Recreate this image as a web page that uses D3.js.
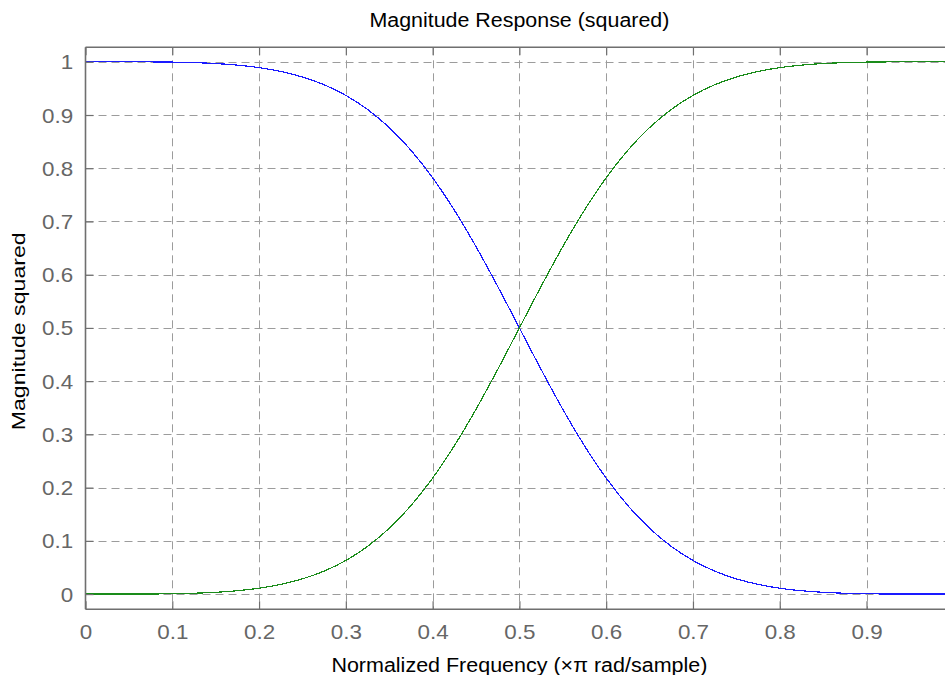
<!DOCTYPE html>
<html>
<head>
<meta charset="utf-8">
<script src="https://cdn.jsdelivr.net/npm/d3@7"></script>
<style>
  html, body { margin: 0; padding: 0; background: #fff; }
  svg { display: block; font-family: "Liberation Sans", Arial, sans-serif; }
</style>
</head>
<body>
<svg id="chart" width="945" height="675"></svg>
<script>
// Normalized frequency samples (x pi rad/sample)
const freq = [0.000, 0.025, 0.050, 0.075, 0.100, 0.125, 0.150, 0.175, 0.200, 0.225,
              0.250, 0.275, 0.300, 0.325, 0.350, 0.375, 0.400, 0.425, 0.450, 0.475,
              0.500, 0.525, 0.550, 0.575, 0.600, 0.625, 0.650, 0.675, 0.700, 0.725,
              0.750, 0.775, 0.800, 0.825, 0.850, 0.875, 0.900, 0.925, 0.950, 0.975, 1.000];

// Squared magnitude, lowpass branch
const lowpass = [1.0000, 1.0000, 1.0000, 0.9998, 0.9994, 0.9984, 0.9967, 0.9937, 0.9890, 0.9818,
                 0.9714, 0.9568, 0.9369, 0.9104, 0.8764, 0.8338, 0.7821, 0.7214, 0.6527, 0.5780,
                 0.5000, 0.4220, 0.3473, 0.2786, 0.2179, 0.1662, 0.1236, 0.0896, 0.0631, 0.0432,
                 0.0286, 0.0182, 0.0110, 0.0063, 0.0033, 0.0016, 0.0006, 0.0002, 0.0000, 0.0000, 0.0000];

// Squared magnitude, highpass branch
const highpass = [0.0000, 0.0000, 0.0000, 0.0002, 0.0006, 0.0016, 0.0033, 0.0063, 0.0110, 0.0182,
                  0.0286, 0.0432, 0.0631, 0.0896, 0.1236, 0.1662, 0.2179, 0.2786, 0.3473, 0.4220,
                  0.5000, 0.5780, 0.6527, 0.7214, 0.7821, 0.8338, 0.8764, 0.9104, 0.9369, 0.9568,
                  0.9714, 0.9818, 0.9890, 0.9937, 0.9967, 0.9984, 0.9994, 0.9998, 1.0000, 1.0000, 1.0000];

const xTicks = [0, 0.1, 0.2, 0.3, 0.4, 0.5, 0.6, 0.7, 0.8, 0.9];
const yTicks = [0, 0.1, 0.2, 0.3, 0.4, 0.5, 0.6, 0.7, 0.8, 0.9, 1];

const titleText = "Magnitude Response (squared)";
const xLabelText = "Normalized Frequency (\u00D7\u03C0 rad/sample)";
const yLabelText = "Magnitude squared";

const svg = d3.select("#chart");
const plotLeft = 85.5, plotRight = 953.3, plotTop = 47.3, plotBottom = 609.3;

const x = d3.scaleLinear().domain([0, 1]).range([plotLeft, plotRight]);
const y = d3.scaleLinear().domain([-0.0286, 1.0272]).range([plotBottom, plotTop]);

const gridColor = "#9c9c9c";
const axisColor = "#6f6f6f";
const tickText = "#666666";

// Dashed grid
const grid = svg.append("g");
grid.selectAll("line.vg").data(xTicks.filter(d => d > 0)).join("line")
  .attr("x1", d => Math.round(x(d)) + 0.5).attr("x2", d => Math.round(x(d)) + 0.5)
  .attr("y1", plotTop).attr("y2", plotBottom)
  .attr("stroke", gridColor).attr("stroke-width", 1).attr("stroke-dasharray", "8,5");
grid.selectAll("line.hg").data(yTicks).join("line")
  .attr("x1", plotLeft).attr("x2", plotRight)
  .attr("y1", d => Math.round(y(d)) + 0.5).attr("y2", d => Math.round(y(d)) + 0.5)
  .attr("stroke", gridColor).attr("stroke-width", 1).attr("stroke-dasharray", "8,5");

// Curves
svg.append("clipPath").attr("id", "plotclip")
  .append("rect").attr("x", plotLeft).attr("y", plotTop)
  .attr("width", plotRight - plotLeft).attr("height", plotBottom - plotTop);

const line = d3.line().x((d, i) => x(freq[i])).y(d => y(d)).curve(d3.curveMonotoneX);
const curves = svg.append("g").attr("clip-path", "url(#plotclip)");
curves.append("path").datum(lowpass).attr("d", line)
  .attr("fill", "none").attr("stroke", "#1a1aff").attr("stroke-width", 1.2)
  .attr("shape-rendering", "crispEdges");
curves.append("path").datum(highpass).attr("d", line)
  .attr("fill", "none").attr("stroke", "#1a8c1a").attr("stroke-width", 1.2)
  .attr("shape-rendering", "crispEdges");

// Axes (ticks drawn inward)
const xAxis = svg.append("g").attr("transform", `translate(0,${plotBottom})`)
  .call(d3.axisBottom(x).tickValues(xTicks).tickSize(-8).tickPadding(16).tickFormat(d3.format("")));
const xAxisTop = svg.append("g").attr("transform", `translate(0,${plotTop})`)
  .call(d3.axisTop(x).tickValues(xTicks).tickSize(-8).tickFormat(""));
const yAxis = svg.append("g").attr("transform", `translate(${plotLeft},0)`)
  .call(d3.axisLeft(y).tickValues(yTicks).tickSize(-8).tickPadding(11).tickFormat(d3.format("")));

[xAxis, xAxisTop, yAxis].forEach(g => {
  g.select(".domain").attr("stroke", axisColor).attr("stroke-width", 1.6);
  g.selectAll(".tick line").attr("stroke", axisColor).attr("stroke-width", 1.2);
  g.selectAll(".tick text").attr("fill", tickText).attr("font-size", 20)
    .attr("font-family", "'Liberation Sans', Arial, sans-serif")
    .attr("transform", "scale(1.12,1)");
});
xAxis.selectAll(".tick text").attr("dy", "0.71em");
yAxis.selectAll(".tick text").attr("dy", "0.35em");
xAxisTop.select(".domain").attr("d", `M${plotLeft},0H${plotRight}`);
xAxis.select(".domain").attr("d", `M${plotLeft},0H${plotRight}`);
yAxis.select(".domain").attr("d", `M0,${plotBottom}V${plotTop}`);

// Titles
svg.append("text").attr("x", (plotLeft + plotRight) / 2).attr("y", 27)
  .attr("text-anchor", "middle").attr("font-size", 20).attr("fill", "#000")
  .attr("textLength", 300).attr("lengthAdjust", "spacingAndGlyphs")
  .text(titleText);
svg.append("text").attr("x", (plotLeft + plotRight) / 2).attr("y", 672)
  .attr("text-anchor", "middle").attr("font-size", 20).attr("fill", "#000")
  .attr("textLength", 376).attr("lengthAdjust", "spacingAndGlyphs")
  .text(xLabelText);
svg.append("text").attr("transform", `translate(25,${(plotTop + plotBottom) / 2 + 3}) rotate(-90)`)
  .attr("text-anchor", "middle").attr("font-size", 18).attr("fill", "#000")
  .attr("textLength", 198).attr("lengthAdjust", "spacingAndGlyphs")
  .text(yLabelText);
</script>
</body>
</html>
